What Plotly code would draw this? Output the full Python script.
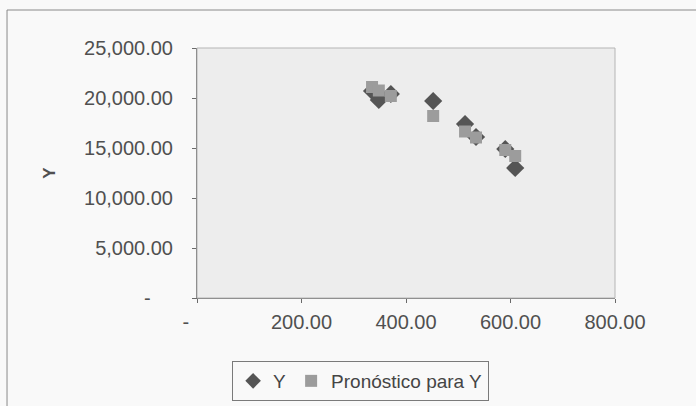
import plotly.graph_objects as go

# Observed X values and the two series plotted against them
x_vals = [335, 348, 371, 452, 513, 534, 590, 609]
y_obs = [20700, 19800, 20400, 19700, 17400, 16100, 14900, 13000]
y_pred = [21100, 20750, 20200, 18200, 16650, 16050, 14800, 14200]

nb = "\u00a0"
x_ticks = [0, 200, 400, 600, 800]
x_tick_text = ["-" + nb * 4, "200.00", "400.00", "600.00", "800.00"]
y_ticks = [0, 5000, 10000, 15000, 20000, 25000]
y_tick_text = ["-" + nb * 4, "5,000.00", "10,000.00",
               "15,000.00", "20,000.00", "25,000.00"]

font_family = "Liberation Sans, Arial, sans-serif"
axis_color = "#6a6a6a"
label_color = "#505050"

fig = go.Figure()
fig.add_trace(go.Scatter(
    x=x_vals, y=y_obs, mode="markers", name="Y",
    marker=dict(symbol="diamond", size=14, color="#555555", line=dict(width=0)),
))
fig.add_trace(go.Scatter(
    x=x_vals, y=y_pred, mode="markers", name="Pronóstico para Y",
    marker=dict(symbol="square", size=12, color="#9c9c9c", line=dict(width=0)),
))

fig.update_layout(
    width=696, height=406,
    margin=dict(l=197, r=81, t=48, b=108, autoexpand=False),
    paper_bgcolor="#f9f9f9",
    plot_bgcolor="#ededed",
    font=dict(family=font_family, size=20, color=label_color),
    showlegend=True,
    legend=dict(
        orientation="h",
        x=0.084, y=-0.252, xanchor="left", yanchor="top",
        bgcolor="#f9f9f9", bordercolor="#7a7a7a", borderwidth=1,
        font=dict(size=19, color="#454545"),
        itemsizing="constant", itemwidth=30,
        tracegroupgap=0,
    ),
    xaxis=dict(
        range=[0, 800], tickvals=x_ticks, ticktext=x_tick_text,
        showgrid=False, zeroline=False,
        showline=True, linecolor=axis_color, linewidth=1,
        ticks="outside", ticklen=4, tickcolor=axis_color,
        tickfont=dict(size=20, color=label_color),
        ticklabelstandoff=2,
    ),
    yaxis=dict(
        range=[0, 25000], tickvals=y_ticks, ticktext=y_tick_text,
        showgrid=False, zeroline=False,
        showline=True, linecolor=axis_color, linewidth=1,
        ticks="outside", ticklen=4, tickcolor=axis_color,
        tickfont=dict(size=20, color=label_color),
        ticklabelstandoff=15,
        title=dict(text="<b>Y</b>", font=dict(size=17, color=label_color), standoff=24),
    ),
    shapes=[
        # light border around the plotting area
        dict(type="rect", xref="paper", yref="paper", x0=0, x1=1, y0=0, y1=1,
             line=dict(color="#b5b5b5", width=1), layer="above"),
        # outer chart frame
        dict(type="rect", xref="paper", yref="paper",
             x0=-0.4545, x1=1.3, y0=-0.5, y1=1.152,
             line=dict(color="#8a8a8a", width=1), layer="below"),
    ],
)

fig.write_html("out.html")
